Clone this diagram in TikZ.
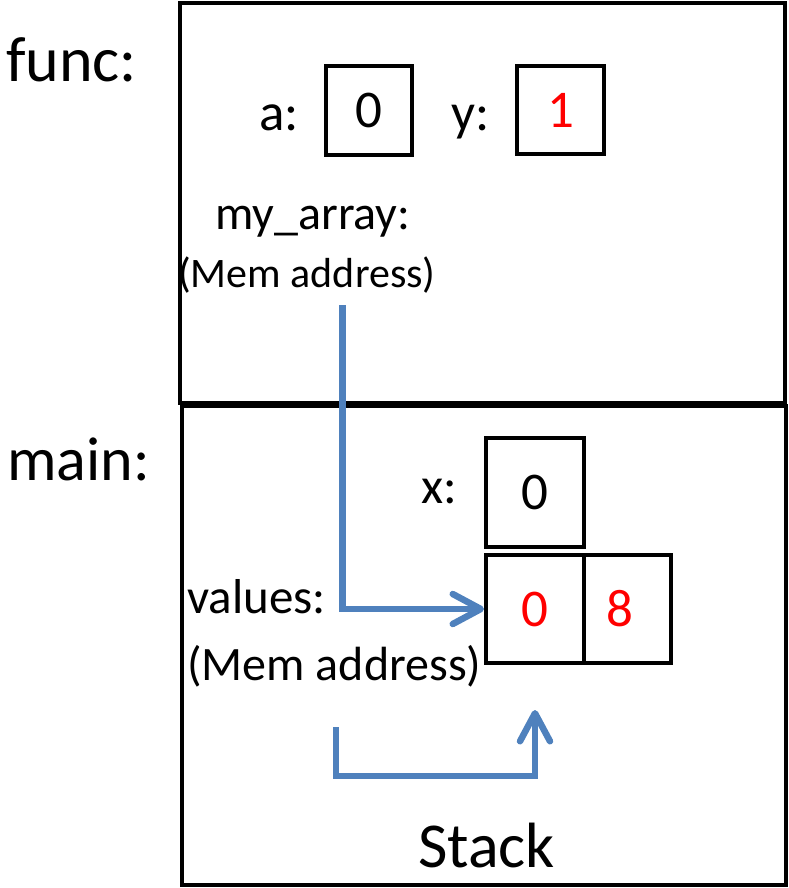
\documentclass[tikz,border=0pt]{standalone}
\usepackage{fontspec}
\setmainfont{Carlito}
\usetikzlibrary{arrows.meta}
\definecolor{arrowblue}{RGB}{79,129,189}
\newcommand\fsz[1]{\fontsize{#1}{#1}\selectfont}
\begin{document}
\begin{tikzpicture}[x=1pt,y=-1pt,
  lbl/.style={inner sep=0pt, anchor=base west},
  cell/.style={draw, line width=4pt, inner sep=0pt, font=\fsz{53}},
  frame/.style={draw, line width=4.5pt, inner sep=0pt},
  ptr/.style={draw=arrowblue, line width=6.5pt,
    -{Straight Barb[length=28pt, width=30pt, round]}}
]
\useasboundingbox (0,0) rectangle (789,888);
% frames
\node[frame, minimum width=605pt, minimum height=400pt] (funcframe) at (482.5,203) {};
\node[frame, minimum width=604pt, minimum height=479pt] (mainframe) at (484,645.5) {};
% frame labels
\node[lbl, font=\fsz{64}] (func) at (6,82) {func:};
\node[lbl, font=\fsz{62}] (main) at (7,480) {main:};
% func variables
\node[lbl, font=\fsz{53}] (alab) at (259,131) {a:};
\node[cell, minimum width=86pt, minimum height=89pt] (acell) at (369,110.5) {0};
\node[lbl, font=\fsz{53}] (ylab) at (451,131) {y:};
\node[cell, minimum width=87pt, minimum height=88pt, text=red] (ycell) at (560.5,110) {1};
\node[lbl, font=\fsz{48}] (myarr) at (215,229) {my\_array:};
\node[lbl, font=\fsz{42}] (addr1) at (178,287) {(Mem address)};
% main variables
\node[lbl, font=\fsz{51}] (xlab) at (421,503) {x:};
\node[cell, minimum width=98pt, minimum height=109pt] (xcell) at (535,492.5) {0};
\node[cell, minimum width=98pt, minimum height=108pt, text=red] (cell0) at (535,609) {0};
\node[cell, minimum width=87pt, minimum height=108pt] (cell1) at (627.5,609) {};
\node[inner sep=0pt, font=\fsz{53}, text=red] (eight) at (620,609) {8};
\node[lbl, font=\fsz{49}] (vals) at (187,613) {values:};
\node[lbl, font=\fsz{48}] (addr2) at (187,680) {(Mem address)};
\node[lbl, font=\fsz{64}] (stack) at (418,867) {Stack};
% pointers
\coordinate (s1) at (342.5,305);
\draw[ptr] (s1) |- (cell0.west);
\coordinate (s2) at (336,727);
\coordinate (t2) at (535,710);
\draw[ptr] (s2) -- ++(0,49) -| (t2);
\end{tikzpicture}
\end{document}
